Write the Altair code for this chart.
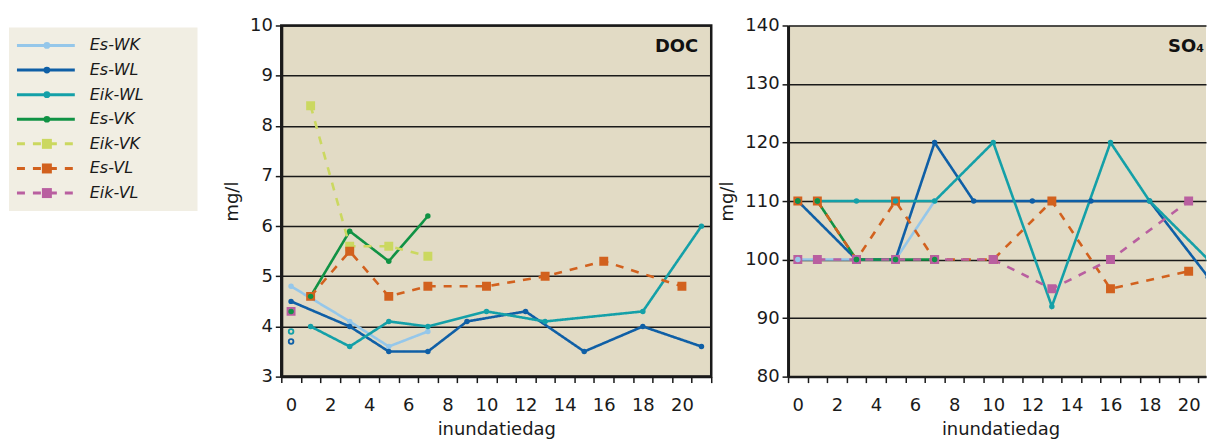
import altair as alt
import pandas as pd

# Series shown in both panels (order = legend order)
SERIES = ["Es-WK", "Es-WL", "Eik-WL", "Es-VK", "Eik-VK", "Es-VL", "Eik-VL"]
COLORS = ["#95C7EA", "#0F5FA6", "#14A0A8", "#109244", "#CBD860", "#D2611E", "#B95FA0"]
MARKERS = ["circle", "circle", "circle", "circle", "square", "square", "square"]
DASHES = [[1, 0], [1, 0], [1, 0], [1, 0], [7, 4], [7, 4], [7, 4]]

# ---- DOC (mg/l) per inundation day ----
doc_es_wk_day = [0, 3, 5, 7]
doc_es_wk_val = [4.8, 4.1, 3.6, 3.9]
doc_es_wl_day = [0, 3, 5, 7, 9, 12, 15, 18, 21]
doc_es_wl_val = [4.5, 4.0, 3.5, 3.5, 4.1, 4.3, 3.5, 4.0, 3.6]
doc_eik_wl_day = [1, 3, 5, 7, 10, 13, 18, 21]
doc_eik_wl_val = [4.0, 3.6, 4.1, 4.0, 4.3, 4.1, 4.3, 6.0]
doc_es_vk_day = [1, 3, 5, 7]
doc_es_vk_val = [4.6, 5.9, 5.3, 6.2]
doc_eik_vk_day = [1, 3, 5, 7]
doc_eik_vk_val = [8.4, 5.6, 5.6, 5.4]
doc_es_vl_day = [1, 3, 5, 7, 10, 13, 16, 20]
doc_es_vl_val = [4.6, 5.5, 4.6, 4.8, 4.8, 5.0, 5.3, 4.8]
doc_eik_vl_day = []
doc_eik_vl_val = []
# separate day-0 readings (not joined to the series lines)
doc_start_series = ["Eik-VL", "Es-VK"]
doc_start_val = [4.3, 4.3]
doc_ring_series = ["Eik-WL", "Es-WL"]
doc_ring_val = [3.9, 3.7]

# ---- SO4 (mg/l) per inundation day ----
so4_es_wk_day = [0, 3, 5, 7]
so4_es_wk_val = [100, 100, 100, 110]
so4_es_wl_day = [0, 3, 5, 7, 9, 12, 15, 18, 21]
so4_es_wl_val = [110, 100, 100, 120, 110, 110, 110, 110, 97]
so4_eik_wl_day = [1, 3, 5, 7, 10, 13, 16, 18, 21]
so4_eik_wl_val = [110, 110, 110, 110, 120, 92, 120, 110, 100]
so4_es_vk_day = [1, 3, 5, 7]
so4_es_vk_val = [110, 100, 100, 100]
so4_eik_vk_day = []
so4_eik_vk_val = []
so4_es_vl_day = [1, 3, 5, 7, 10, 13, 16, 20]
so4_es_vl_val = [110, 100, 110, 100, 100, 110, 95, 98]
so4_eik_vl_day = [1, 3, 5, 7, 10, 13, 16, 20]
so4_eik_vl_val = [100, 100, 100, 100, 100, 95, 100, 110]
so4_start_series = ["Es-VL", "Eik-VL", "Es-VK"]
so4_start_val = [110, 100, 110]
so4_ring_series = []
so4_ring_val = []

DOC_TICKS = [3, 4, 5, 6, 7, 8, 9, 10]
SO4_TICKS = [80, 90, 100, 110, 120, 130, 140]

FONT = "DejaVu Sans"
BG_PLOT = "#E2DBC5"
BG_LEGEND = "#F1EEE3"
INK = "#1A1A1A"


def build_table(lines, starts, rings):
    rows = []
    for name, days, vals in lines:
        for d, v in zip(days, vals):
            rows.append({"series": name, "day": d, "value": v, "seg": name, "kind": "line"})
    for name, v in zip(*starts):
        rows.append({"series": name, "day": 0, "value": v, "seg": name + "-0", "kind": "start"})
    for name, v in zip(*rings):
        rows.append({"series": name, "day": 0, "value": v, "seg": name + "-r", "kind": "ring"})
    df = pd.DataFrame(rows)
    df["marker"] = df["series"].map(dict(zip(SERIES, MARKERS)))
    return df


doc_df = build_table(
    [("Es-WK", doc_es_wk_day, doc_es_wk_val), ("Es-WL", doc_es_wl_day, doc_es_wl_val),
     ("Eik-WL", doc_eik_wl_day, doc_eik_wl_val), ("Es-VK", doc_es_vk_day, doc_es_vk_val),
     ("Eik-VK", doc_eik_vk_day, doc_eik_vk_val), ("Es-VL", doc_es_vl_day, doc_es_vl_val),
     ("Eik-VL", doc_eik_vl_day, doc_eik_vl_val)],
    (doc_start_series, doc_start_val), (doc_ring_series, doc_ring_val))

so4_df = build_table(
    [("Es-WK", so4_es_wk_day, so4_es_wk_val), ("Es-WL", so4_es_wl_day, so4_es_wl_val),
     ("Eik-WL", so4_eik_wl_day, so4_eik_wl_val), ("Es-VK", so4_es_vk_day, so4_es_vk_val),
     ("Eik-VK", so4_eik_vk_day, so4_eik_vk_val), ("Es-VL", so4_es_vl_day, so4_es_vl_val),
     ("Eik-VL", so4_eik_vl_day, so4_eik_vl_val)],
    (so4_start_series, so4_start_val), (so4_ring_series, so4_ring_val))

color = alt.Color("series:N", scale=alt.Scale(domain=SERIES, range=COLORS), legend=None)
dash = alt.StrokeDash("series:N", scale=alt.Scale(domain=SERIES, range=DASHES), legend=None)

FULL_W = 431          # plot width of a complete panel (days -0.5 .. 21.5)
PLOT_H = 352
UNIT = FULL_W / 22.0  # pixels per day


def panel(df, width, ticks, label, title_x):
    xmax = -0.5 + width / UNIT
    tick_vals = [d - 0.5 for d in range(0, 23) if d - 0.5 <= xmax + 1e-9]
    x = alt.X(
        "day:Q",
        scale=alt.Scale(domain=[-0.5, xmax], nice=False, zero=False),
        axis=alt.Axis(
            values=tick_vals,
            labelExpr="((datum.value + 0.5) % 2 == 0 && datum.value < 20) ? '' + (datum.value + 0.5) : ''",
            labelOffset=UNIT / 2, labelFlush=False, labelOverlap=False,
            grid=False, tickSize=6, tickWidth=1.5, tickColor=INK,
            domainColor=INK, domainWidth=2.5,
            labelFont=FONT, labelFontSize=18, labelColor=INK, labelPadding=14,
            title="inundatiedag", titleFont=FONT, titleFontSize=18,
            titleFontWeight="normal", titleColor=INK, titlePadding=6,
            titleX=title_x, titleAlign="center",
        ),
    )
    y = alt.Y(
        "value:Q",
        scale=alt.Scale(domain=[ticks[0], ticks[-1]], nice=False, zero=False),
        axis=alt.Axis(
            values=ticks, grid=True, gridColor=INK, gridWidth=1.5,
            tickSize=6, tickWidth=1.5, tickColor=INK,
            domainColor=INK, domainWidth=3,
            labelFont=FONT, labelFontSize=18, labelColor=INK, labelPadding=3,
            title="mg/l", titleFont=FONT, titleFontSize=18,
            titleFontWeight="normal", titleColor=INK, titlePadding=8,
        ),
    )
    base = alt.Chart(df)
    lines = base.transform_filter("datum.kind == 'line'").mark_line(
        strokeWidth=2.6, clip=True
    ).encode(x=x, y=y, color=color, strokeDash=dash, detail="seg:N", order="day:Q")
    squares = base.transform_filter(
        "datum.marker == 'square' && datum.kind != 'ring'"
    ).mark_square(size=80, opacity=1, clip=True).encode(x=x, y=y, color=color)
    dots = base.transform_filter(
        "datum.marker == 'circle' && datum.kind != 'ring'"
    ).mark_circle(size=30, opacity=1, clip=True).encode(x=x, y=y, color=color)
    rings = base.transform_filter("datum.kind == 'ring'").mark_point(
        shape="circle", filled=False, size=22, strokeWidth=1.8, opacity=1, clip=True
    ).encode(x=x, y=y, color=color)
    tag = alt.Chart(pd.DataFrame({"label": [label]})).mark_text(
        align="right", baseline="middle", font=FONT, fontSize=18, fontWeight="bold", color="#111"
    ).encode(text="label:N", x=alt.value(width - 13 if width >= FULL_W else width - 2), y=alt.value(22))
    return alt.layer(lines, squares, dots, rings, tag).properties(
        width=width, height=PLOT_H
    )


doc_chart = panel(doc_df, FULL_W, DOC_TICKS, "DOC", FULL_W / 2).properties(
    view=alt.ViewBackground(fill=BG_PLOT, stroke=INK, strokeWidth=2.5)
)
SO4_W = 419
so4_chart = panel(so4_df, SO4_W, SO4_TICKS, "SO\u2084", 213).properties(
    view=alt.ViewBackground(fill=BG_PLOT, stroke=None)
)

# ---- legend panel ----
leg_df = pd.DataFrame({"series": SERIES, "marker": MARKERS})
ly = alt.Y("series:N", scale=alt.Scale(type="point", domain=SERIES, range=[20, 168], padding=0), axis=None)
leg_base = alt.Chart(leg_df)
leg_bg = alt.Chart(pd.DataFrame({"k": [0]})).mark_rect(color=BG_LEGEND).encode(
    x=alt.value(0), x2=alt.value(189), y=alt.value(2), y2=alt.value(186)
)
leg_lines = leg_base.mark_rule(strokeWidth=3).encode(
    x=alt.value(8), x2=alt.value(66), y=ly, color=color, strokeDash=alt.StrokeDash(
        "series:N", scale=alt.Scale(domain=SERIES, range=[[1, 0]] * 4 + [[8, 8]] * 3), legend=None)
)
leg_sq = leg_base.transform_filter("datum.marker == 'square'").mark_square(size=100, opacity=1).encode(
    x=alt.value(38), y=ly, color=color
)
leg_dot = leg_base.transform_filter("datum.marker == 'circle'").mark_circle(size=45, opacity=1).encode(
    x=alt.value(38), y=ly, color=color
)
leg_txt = leg_base.mark_text(
    align="left", baseline="middle", font=FONT, fontSize=16, fontStyle="italic", color=INK
).encode(x=alt.value(81), y=ly, text="series:N")
legend_chart = alt.layer(leg_bg, leg_lines, leg_sq, leg_dot, leg_txt).properties(
    width=196, height=PLOT_H, view=alt.ViewBackground(fill=None, stroke=None)
)

chart = alt.hconcat(
    legend_chart, doc_chart, so4_chart, spacing=77, bounds="flush"
).properties(
    padding={"left": 9, "top": 14, "right": 0, "bottom": 4},
    background="white",
).configure(font=FONT)

chart.save("out.html", embed_options={"renderer": "svg", "actions": False})
